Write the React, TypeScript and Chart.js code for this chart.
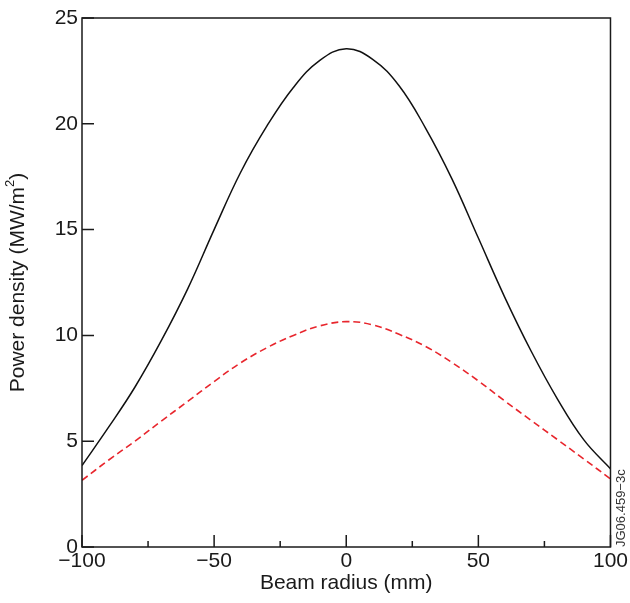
import React, { useEffect, useRef } from "react";
import { Chart, registerables } from "chart.js";
Chart.register(...registerables);

const radius = [-100, -90, -80, -70, -60, -50, -40, -30, -20, -10, 0, 10, 20, 30, 40, 50, 60, 70, 80, 90, 100];
const totalPower = [3.85, 5.65, 7.55, 9.75, 12.2, 15.0, 17.7, 19.9, 21.72, 23.0, 23.55, 23.05, 21.8, 19.8, 17.4, 14.6, 11.8, 9.25, 6.98, 5.05, 3.7];
const reducedPower = [3.15, 4.1, 5.0, 5.95, 6.88, 7.82, 8.7, 9.42, 10.0, 10.45, 10.65, 10.5, 10.05, 9.48, 8.72, 7.85, 6.9, 5.98, 5.07, 4.15, 3.22];
const yMajorTicks = [0, 5, 10, 15, 20, 25];
const xMajorTicks = [-100, -50, 0, 50, 100];
const xMinorTicks = [-75, -25, 25, 75];
const xTitle = "Beam radius (mm)";
const yTitleMain = "Power density (MW/m";
const yTitleSup = "2";
const yTitleEnd = ")";
const figureId = "JG06.459\u22123c";

const FONT = "'Liberation Sans', Arial, Helvetica, sans-serif";
const INK = "#1a1a1a";
const FS = 21;

const framePlugin = {
  id: "frame",
  afterDraw(chart: any) {
    const { ctx, chartArea } = chart;
    const { left, right, top, bottom } = chartArea;
    const xs = chart.scales.x;
    const ys = chart.scales.y;
    ctx.save();
    ctx.strokeStyle = INK;
    ctx.lineWidth = 1.5;
    ctx.strokeRect(left, top, right - left, bottom - top);
    ctx.beginPath();
    for (const v of yMajorTicks) {
      const y = ys.getPixelForValue(v);
      ctx.moveTo(left, y);
      ctx.lineTo(left + 12, y);
    }
    for (const v of xMajorTicks) {
      const x = xs.getPixelForValue(v);
      ctx.moveTo(x, bottom);
      ctx.lineTo(x, bottom - 12);
    }
    for (const v of xMinorTicks) {
      const x = xs.getPixelForValue(v);
      ctx.moveTo(x, bottom);
      ctx.lineTo(x, bottom - 6);
    }
    ctx.stroke();

    // x title
    ctx.fillStyle = INK;
    ctx.font = `${FS}px ${FONT}`;
    ctx.textAlign = "center";
    ctx.textBaseline = "middle";
    ctx.fillText(xTitle, (left + right) / 2, 583);

    // y title with superscript
    ctx.save();
    ctx.translate(18, (top + bottom) / 2);
    ctx.rotate(-Math.PI / 2);
    ctx.font = `${FS}px ${FONT}`;
    const w1 = ctx.measureText(yTitleMain).width;
    const w3 = ctx.measureText(yTitleEnd).width;
    ctx.font = `13px ${FONT}`;
    const w2 = ctx.measureText(yTitleSup).width;
    const total = w1 + w2 + w3;
    const x0 = -total / 2;
    ctx.textAlign = "left";
    ctx.textBaseline = "middle";
    ctx.font = `${FS}px ${FONT}`;
    ctx.fillText(yTitleMain, x0, 0);
    ctx.font = `13px ${FONT}`;
    ctx.fillText(yTitleSup, x0 + w1, -8);
    ctx.font = `${FS}px ${FONT}`;
    ctx.fillText(yTitleEnd, x0 + w1 + w2, 0);
    ctx.restore();

    // figure id
    ctx.save();
    ctx.translate(621, bottom);
    ctx.rotate(-Math.PI / 2);
    ctx.font = `13px ${FONT}`;
    ctx.fillStyle = "#333";
    ctx.textAlign = "left";
    ctx.textBaseline = "middle";
    ctx.fillText(figureId, 0, 0);
    ctx.restore();
    ctx.restore();
  },
};

export default function App() {
  const ref = useRef<HTMLCanvasElement | null>(null);
  useEffect(() => {
    if (!ref.current) return;
    const chart = new Chart(ref.current, {
      type: "line",
      data: {
        datasets: [
          {
            data: radius.map((x, i) => ({ x, y: totalPower[i] })),
            borderColor: "#111111",
            borderWidth: 1.5,
            pointRadius: 0,
            tension: 0.4,
            fill: false,
          },
          {
            data: radius.map((x, i) => ({ x, y: reducedPower[i] })),
            borderColor: "#e8262d",
            borderWidth: 1.6,
            borderDash: [7, 4],
            pointRadius: 0,
            tension: 0.4,
            fill: false,
          },
        ],
      },
      options: {
        animation: false,
        responsive: true,
        maintainAspectRatio: false,
        layout: { padding: { top: 18, right: 18, left: 0, bottom: 0 } },
        plugins: { legend: { display: false }, tooltip: { enabled: false } },
        scales: {
          x: {
            type: "linear",
            min: -100,
            max: 100,
            afterFit: (s: any) => {
              s.height = 56;
            },
            afterBuildTicks: (s: any) => {
              s.ticks = xMajorTicks.map((v) => ({ value: v }));
            },
            grid: { display: false, drawTicks: false },
            border: { display: false },
            ticks: {
              padding: 2,
              color: INK,
              font: { size: FS, family: FONT },
              maxRotation: 0,
              callback: (v: any) => String(v).replace("-", "\u2212"),
            },
          },
          y: {
            type: "linear",
            min: 0,
            max: 25,
            afterFit: (s: any) => {
              s.width = 82;
            },
            afterBuildTicks: (s: any) => {
              s.ticks = yMajorTicks.map((v) => ({ value: v }));
            },
            grid: { display: false, drawTicks: false },
            border: { display: false },
            ticks: {
              padding: 4,
              color: INK,
              font: { size: FS, family: FONT },
            },
          },
        },
      },
      plugins: [framePlugin],
    });
    return () => chart.destroy();
  }, []);
  return (
    <div style={{ position: "fixed", left: 0, top: 0, width: 630, height: 603, background: "#fff" }}>
      <canvas ref={ref} />
    </div>
  );
}
